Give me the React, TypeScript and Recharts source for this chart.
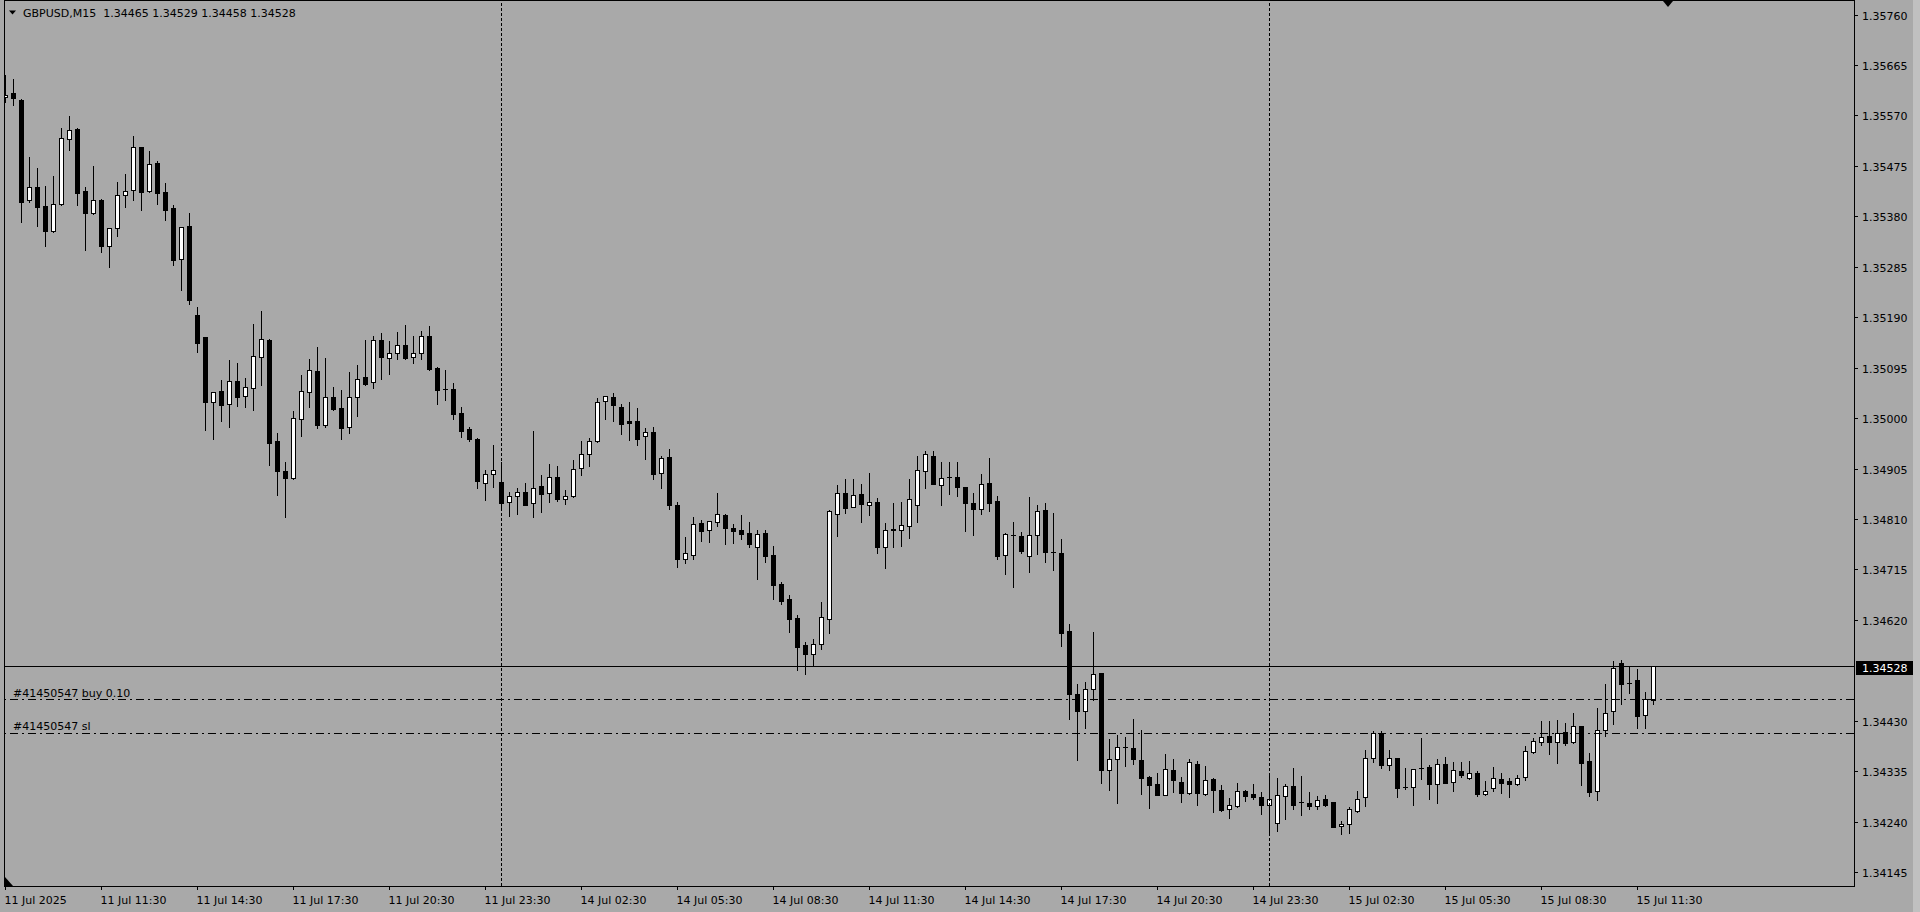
import React from 'react';
import { BarChart, Bar, XAxis, YAxis, ReferenceLine } from 'recharts';

const FONT = '"DejaVu Sans", Verdana, sans-serif';
const BG = '#A9A9A9';

const symbolName = 'GBPUSD,M15';

// trading sessions of M15 bars shown (weekend skipped)
const sessions = [
  { day: '11 Jul', start: 8 * 60 + 30, bars: 62 },
  { day: '14 Jul', start: 0, bars: 96 },
  { day: '15 Jul', start: 0, bars: 49 },
];

const openPrices = [
  1.35600, 1.35608, 1.35595, 1.35406, 1.35431, 1.35395, 1.35348, 1.35398, 1.35522, 1.35540,
  1.35423, 1.35381, 1.35406, 1.35320, 1.35353, 1.35415, 1.35426, 1.35506, 1.35423, 1.35476,
  1.35421, 1.35391, 1.35296, 1.35357, 1.35190, 1.35148, 1.35025, 1.35047, 1.35022, 1.35065,
  1.35037, 1.35052, 1.35110, 1.35143, 1.34952, 1.34896, 1.34883, 1.34993, 1.35044, 1.35084,
  1.34983, 1.35035, 1.35015, 1.34979, 1.35035, 1.35073, 1.35063, 1.35142, 1.35108, 1.35119,
  1.35134, 1.35110, 1.35118, 1.35151, 1.35090, 1.35050, 1.35050, 1.35006, 1.34975, 1.34957,
  1.34873, 1.34890, 1.34876, 1.34837, 1.34848, 1.34856, 1.34835, 1.34867, 1.34854, 1.34884,
  1.34844, 1.34848, 1.34901, 1.34928, 1.34952, 1.35027, 1.35035, 1.35016, 1.34991, 1.34990,
  1.34961, 1.34969, 1.34893, 1.34922, 1.34832, 1.34731, 1.34738, 1.34798, 1.34785, 1.34800,
  1.34813, 1.34789, 1.34785, 1.34779, 1.34753, 1.34779, 1.34738, 1.34684, 1.34655, 1.34619,
  1.34568, 1.34552, 1.34571, 1.34618, 1.34814, 1.34854, 1.34829, 1.34852, 1.34832, 1.34837,
  1.34753, 1.34785, 1.34785, 1.34793, 1.34832, 1.34895, 1.34925, 1.34870, 1.34885, 1.34884,
  1.34865, 1.34836, 1.34824, 1.34873, 1.34839, 1.34738, 1.34776, 1.34773, 1.34735, 1.34775,
  1.34822, 1.34744, 1.34741, 1.34594, 1.34475, 1.34443, 1.34486, 1.34515, 1.34333, 1.34354,
  1.34377, 1.34375, 1.34352, 1.34319, 1.34306, 1.34286, 1.34333, 1.34311, 1.34289, 1.34345,
  1.34287, 1.34316, 1.34295, 1.34259, 1.34265, 1.34294, 1.34287, 1.34282, 1.34267, 1.34233,
  1.34284, 1.34302, 1.34273, 1.34270, 1.34265, 1.34278, 1.34272, 1.34228, 1.34232, 1.34256,
  1.34282, 1.34355, 1.34402, 1.34342, 1.34355, 1.34300, 1.34300, 1.34337, 1.34338, 1.34306,
  1.34345, 1.34310, 1.34330, 1.34317, 1.34327, 1.34288, 1.34298, 1.34315, 1.34312, 1.34307,
  1.34319, 1.34367, 1.34385, 1.34396, 1.34386, 1.34404, 1.34385, 1.34415, 1.34349, 1.34294,
  1.34409, 1.34443, 1.34535, 1.34497, 1.34502, 1.34437, 1.34465,
];

const highPrices = [
  1.35642, 1.35634, 1.35597, 1.35487, 1.35467, 1.35433, 1.35452, 1.35542, 1.35565, 1.35541,
  1.35431, 1.35470, 1.35408, 1.35354, 1.35440, 1.35455, 1.35527, 1.35507, 1.35499, 1.35480,
  1.35438, 1.35397, 1.35356, 1.35382, 1.35205, 1.35149, 1.35045, 1.35067, 1.35105, 1.35099,
  1.35071, 1.35173, 1.35197, 1.35144, 1.34967, 1.34913, 1.35009, 1.35077, 1.35107, 1.35129,
  1.35109, 1.35054, 1.35048, 1.35082, 1.35096, 1.35143, 1.35150, 1.35156, 1.35141, 1.35158,
  1.35171, 1.35150, 1.35160, 1.35169, 1.35091, 1.35086, 1.35062, 1.35016, 1.34979, 1.34958,
  1.34898, 1.34945, 1.34913, 1.34856, 1.34863, 1.34873, 1.34971, 1.34888, 1.34909, 1.34905,
  1.34861, 1.34917, 1.34952, 1.34958, 1.35033, 1.35038, 1.35043, 1.35023, 1.35026, 1.35015,
  1.34977, 1.34979, 1.34924, 1.34937, 1.34838, 1.34772, 1.34809, 1.34804, 1.34802, 1.34854,
  1.34814, 1.34796, 1.34813, 1.34800, 1.34784, 1.34784, 1.34755, 1.34686, 1.34662, 1.34625,
  1.34574, 1.34580, 1.34649, 1.34822, 1.34870, 1.34881, 1.34881, 1.34871, 1.34892, 1.34845,
  1.34798, 1.34836, 1.34838, 1.34881, 1.34924, 1.34934, 1.34934, 1.34913, 1.34913, 1.34913,
  1.34866, 1.34854, 1.34890, 1.34920, 1.34848, 1.34779, 1.34800, 1.34781, 1.34847, 1.34832,
  1.34836, 1.34817, 1.34767, 1.34608, 1.34495, 1.34498, 1.34593, 1.34516, 1.34391, 1.34398,
  1.34395, 1.34429, 1.34409, 1.34322, 1.34328, 1.34363, 1.34353, 1.34320, 1.34353, 1.34350,
  1.34340, 1.34317, 1.34305, 1.34280, 1.34308, 1.34295, 1.34306, 1.34291, 1.34321, 1.34317,
  1.34306, 1.34337, 1.34321, 1.34291, 1.34283, 1.34286, 1.34273, 1.34237, 1.34263, 1.34293,
  1.34370, 1.34406, 1.34406, 1.34370, 1.34356, 1.34337, 1.34335, 1.34393, 1.34342, 1.34353,
  1.34357, 1.34348, 1.34348, 1.34350, 1.34330, 1.34312, 1.34338, 1.34327, 1.34318, 1.34324,
  1.34378, 1.34393, 1.34425, 1.34425, 1.34427, 1.34421, 1.34440, 1.34416, 1.34365, 1.34449,
  1.34495, 1.34538, 1.34540, 1.34528, 1.34523, 1.34479, 1.34529,
];

const lowPrices = [
  1.35590, 1.35585, 1.35365, 1.35403, 1.35358, 1.35320, 1.35346, 1.35397, 1.35501, 1.35396,
  1.35313, 1.35379, 1.35309, 1.35281, 1.35339, 1.35394, 1.35407, 1.35388, 1.35421, 1.35399,
  1.35369, 1.35284, 1.35237, 1.35210, 1.35120, 1.34974, 1.34957, 1.34991, 1.34979, 1.35019,
  1.35017, 1.35010, 1.35058, 1.34908, 1.34851, 1.34810, 1.34881, 1.34962, 1.35017, 1.34977,
  1.34979, 1.35010, 1.34957, 1.34968, 1.35000, 1.35058, 1.35053, 1.35070, 1.35079, 1.35107,
  1.35107, 1.35099, 1.35107, 1.35087, 1.35022, 1.35030, 1.34993, 1.34960, 1.34953, 1.34863,
  1.34842, 1.34866, 1.34826, 1.34812, 1.34815, 1.34831, 1.34809, 1.34819, 1.34838, 1.34840,
  1.34834, 1.34847, 1.34889, 1.34906, 1.34951, 1.34994, 1.34991, 1.34966, 1.34955, 1.34944,
  1.34918, 1.34881, 1.34863, 1.34825, 1.34716, 1.34723, 1.34731, 1.34764, 1.34762, 1.34793,
  1.34759, 1.34761, 1.34767, 1.34753, 1.34693, 1.34725, 1.34655, 1.34646, 1.34593, 1.34522,
  1.34514, 1.34529, 1.34561, 1.34591, 1.34774, 1.34817, 1.34828, 1.34800, 1.34813, 1.34742,
  1.34714, 1.34753, 1.34755, 1.34770, 1.34800, 1.34864, 1.34871, 1.34831, 1.34853, 1.34849,
  1.34782, 1.34776, 1.34814, 1.34821, 1.34731, 1.34702, 1.34678, 1.34742, 1.34706, 1.34740,
  1.34725, 1.34710, 1.34567, 1.34429, 1.34352, 1.34412, 1.34465, 1.34309, 1.34296, 1.34271,
  1.34341, 1.34345, 1.34288, 1.34262, 1.34285, 1.34285, 1.34292, 1.34273, 1.34288, 1.34266,
  1.34285, 1.34254, 1.34256, 1.34243, 1.34264, 1.34275, 1.34279, 1.34250, 1.34215, 1.34217,
  1.34241, 1.34260, 1.34248, 1.34260, 1.34260, 1.34265, 1.34225, 1.34213, 1.34215, 1.34254,
  1.34265, 1.34348, 1.34337, 1.34333, 1.34282, 1.34297, 1.34267, 1.34316, 1.34279, 1.34271,
  1.34308, 1.34294, 1.34320, 1.34316, 1.34284, 1.34286, 1.34294, 1.34290, 1.34282, 1.34305,
  1.34313, 1.34365, 1.34380, 1.34363, 1.34346, 1.34380, 1.34384, 1.34305, 1.34284, 1.34277,
  1.34396, 1.34420, 1.34458, 1.34478, 1.34411, 1.34411, 1.34458,
];

const closePrices = [
  1.35605, 1.35599, 1.35403, 1.35431, 1.35394, 1.35348, 1.35398, 1.35523, 1.35538, 1.35420,
  1.35382, 1.35406, 1.35320, 1.35353, 1.35415, 1.35423, 1.35506, 1.35422, 1.35474, 1.35420,
  1.35388, 1.35294, 1.35355, 1.35218, 1.35137, 1.35026, 1.35044, 1.35021, 1.35065, 1.35036,
  1.35054, 1.35112, 1.35144, 1.34949, 1.34895, 1.34883, 1.34995, 1.35046, 1.35086, 1.34983,
  1.35035, 1.35013, 1.34977, 1.35035, 1.35070, 1.35060, 1.35142, 1.35111, 1.35119, 1.35134,
  1.35109, 1.35118, 1.35151, 1.35088, 1.35049, 1.35051, 1.35004, 1.34972, 1.34957, 1.34878,
  1.34890, 1.34897, 1.34836, 1.34848, 1.34856, 1.34832, 1.34863, 1.34853, 1.34884, 1.34843,
  1.34848, 1.34899, 1.34927, 1.34952, 1.35025, 1.35037, 1.35021, 1.34985, 1.34987, 1.34957,
  1.34969, 1.34891, 1.34920, 1.34831, 1.34731, 1.34741, 1.34797, 1.34783, 1.34801, 1.34815,
  1.34789, 1.34783, 1.34778, 1.34759, 1.34777, 1.34736, 1.34682, 1.34652, 1.34618, 1.34565,
  1.34552, 1.34571, 1.34620, 1.34820, 1.34854, 1.34827, 1.34850, 1.34834, 1.34837, 1.34753,
  1.34784, 1.34786, 1.34794, 1.34843, 1.34897, 1.34927, 1.34872, 1.34882, 1.34885, 1.34866,
  1.34836, 1.34825, 1.34871, 1.34836, 1.34736, 1.34777, 1.34775, 1.34745, 1.34775, 1.34820,
  1.34744, 1.34743, 1.34591, 1.34475, 1.34443, 1.34485, 1.34513, 1.34333, 1.34353, 1.34377,
  1.34377, 1.34354, 1.34318, 1.34305, 1.34286, 1.34334, 1.34313, 1.34290, 1.34347, 1.34289,
  1.34313, 1.34296, 1.34257, 1.34266, 1.34294, 1.34284, 1.34282, 1.34267, 1.34279, 1.34285,
  1.34302, 1.34267, 1.34273, 1.34265, 1.34276, 1.34267, 1.34226, 1.34232, 1.34259, 1.34279,
  1.34355, 1.34402, 1.34343, 1.34355, 1.34299, 1.34300, 1.34334, 1.34337, 1.34307, 1.34345,
  1.34309, 1.34332, 1.34324, 1.34327, 1.34288, 1.34294, 1.34317, 1.34309, 1.34307, 1.34318,
  1.34368, 1.34387, 1.34394, 1.34386, 1.34402, 1.34384, 1.34415, 1.34346, 1.34292, 1.34408,
  1.34441, 1.34524, 1.34494, 1.34497, 1.34435, 1.34466, 1.34528,
];

const yTicks = [
  1.34145, 1.34240, 1.34335, 1.34430, 1.34620, 1.34715, 1.34810, 1.34905, 1.35000,
  1.35095, 1.35190, 1.35285, 1.35380, 1.35475, 1.35570, 1.35665, 1.35760,
];

const xTickLabels = [
  '11 Jul 2025', '11 Jul 11:30', '11 Jul 14:30', '11 Jul 17:30', '11 Jul 20:30', '11 Jul 23:30',
  '14 Jul 02:30', '14 Jul 05:30', '14 Jul 08:30', '14 Jul 11:30', '14 Jul 14:30', '14 Jul 17:30',
  '14 Jul 20:30', '14 Jul 23:30', '15 Jul 02:30', '15 Jul 05:30', '15 Jul 08:30', '15 Jul 11:30',
];

const separatorTimes = ['14 Jul 00:00', '15 Jul 00:00'];

const buyPrice = 1.34465;
const buyLabel = '#41450547 buy 0.10';
const slPrice = 1.34402;
const slLabel = '#41450547 sl';

const Y_MIN = 1.341143;
const Y_MAX = 1.357811;
const SHIFT_BARS = 24;

function pad2(n: number) {
  return n < 10 ? '0' + n : String(n);
}

const times: string[] = [];
sessions.forEach((s) => {
  for (let i = 0; i < s.bars; i++) {
    const m = s.start + 15 * i;
    times.push(`${s.day} ${pad2(Math.floor(m / 60))}:${pad2(m % 60)}`);
  }
});

const rows: any[] = times.map((t, i) => ({
  t,
  o: openPrices[i],
  h: highPrices[i],
  l: lowPrices[i],
  c: closePrices[i],
  range: [lowPrices[i], highPrices[i]],
}));
for (let i = 0; i < SHIFT_BARS; i++) {
  rows.push({ t: `shift-${i}`, o: null, h: null, l: null, c: null, range: null });
}

const tickTimes = times.filter((_, i) => i % 12 === 0);
const tickLabelMap = new Map<string, string>();
tickTimes.forEach((t, i) => tickLabelMap.set(t, xTickLabels[i]));

const last = rows[times.length - 1];
const bid = last.c;
const title = `${symbolName}  ${last.o.toFixed(5)} ${last.h.toFixed(5)} ${last.l.toFixed(5)} ${last.c.toFixed(5)}`;

function Candle(props: any) {
  const { x, y, width, height, payload } = props;
  if (!payload || payload.o == null || !isFinite(y) || !isFinite(height)) return null;
  const { o, h, l, c } = payload;
  const top = Math.min(y, y + height);
  const bottom = Math.max(y, y + height);
  const k = h > l ? (bottom - top) / (h - l) : 0;
  const py = (v: number) => top + (h - v) * k;
  const cx = Math.floor(x + width / 2) + 0.5;
  const bull = c >= o;
  const bt = Math.round(py(Math.max(o, c)));
  const bb = Math.round(py(Math.min(o, c)));
  return (
    <g>
      <line x1={cx} x2={cx} y1={Math.round(py(h))} y2={Math.round(py(l)) + 1} stroke="#000" strokeWidth={1} />
      {bb - bt < 1 ? (
        <line x1={cx - 2.5} x2={cx + 2.5} y1={bt + 0.5} y2={bt + 0.5} stroke="#000" strokeWidth={1} />
      ) : (
        <rect x={cx - 2} y={bt + 0.5} width={4} height={bb - bt} fill={bull ? '#fff' : '#000'} stroke="#000" strokeWidth={1} />
      )}
    </g>
  );
}

function XTick(props: any) {
  const { x, y, payload } = props;
  const label = tickLabelMap.get(payload.value);
  if (!label) return null;
  const cx = Math.floor(x) + 0.5;
  return (
    <g>
      <line x1={cx} x2={cx} y1={y} y2={y + 4} stroke="#000" shapeRendering="crispEdges" />
      <text x={cx - 1} y={y + 18} fontFamily={FONT} fontSize={11} fill="#000">{label}</text>
    </g>
  );
}

function YTick(props: any) {
  const { x, y, payload } = props;
  const yy = Math.round(y + 2.4) + 0.5;
  return (
    <g>
      <line x1={x} x2={x + 4} y1={yy} y2={yy} stroke="#000" shapeRendering="crispEdges" />
      <text x={x + 8} y={yy + 4} fontFamily={FONT} fontSize={11} fill="#000">{Number(payload.value).toFixed(5)}</text>
    </g>
  );
}

function PriceTag(props: any) {
  const vb = props.viewBox || {};
  const right = (vb.x ?? 0) + (vb.width ?? 0);
  const y = Math.round(vb.y ?? 0);
  return (
    <g>
      <rect x={right + 2} y={y - 5} width={57} height={14} fill="#000" />
      <text x={right + 8} y={y + 6} fill="#fff" fontFamily={FONT} fontSize={11}>{bid.toFixed(5)}</text>
    </g>
  );
}

function OrderLabel(props: any) {
  const vb = props.viewBox || {};
  return (
    <text x={(vb.x ?? 0) + 11.5} y={(vb.y ?? 0) - 3} fill="#000" fontFamily={FONT} fontSize={11}>
      {props.text}
    </text>
  );
}

export default function App() {
  return (
    <div style={{ position: 'absolute', left: 0, top: 0, width: 1920, height: 912, background: BG, overflow: 'hidden' }}>
      <BarChart
        width={1920}
        height={912}
        data={rows}
        margin={{ top: 1, right: 0, bottom: 0, left: 1.5 }}
        barCategoryGap={0}
        barGap={0}
      >
        <XAxis
          dataKey="t"
          height={26}
          ticks={tickTimes}
          interval={0}
          tick={<XTick />}
          tickSize={0}
          tickMargin={0}
          tickLine={false}
          axisLine={false}
          padding={{ left: 0, right: 4.5 }}
        />
        <YAxis
          orientation="right"
          width={66}
          type="number"
          domain={[Y_MIN, Y_MAX]}
          allowDataOverflow
          ticks={yTicks}
          interval={0}
          tick={<YTick />}
          tickSize={0}
          tickMargin={0}
          tickLine={false}
          axisLine={false}
        />
        {separatorTimes.map((t) => (
          <ReferenceLine key={t} x={t} stroke="#000" strokeDasharray="3 2" strokeWidth={1} />
        ))}
        <ReferenceLine y={buyPrice} stroke="#000" strokeDasharray="8 4 2 4" strokeWidth={1} shapeRendering="crispEdges" label={<OrderLabel text={buyLabel} />} />
        <ReferenceLine y={slPrice} stroke="#000" strokeDasharray="8 4 2 4" strokeWidth={1} shapeRendering="crispEdges" label={<OrderLabel text={slLabel} />} />
        <ReferenceLine y={bid} stroke="#000" strokeWidth={1} shapeRendering="crispEdges" label={<PriceTag />} />
        <Bar dataKey="range" shape={<Candle />} isAnimationActive={false} />
      </BarChart>
      <svg width={1920} height={912} style={{ position: 'absolute', left: 0, top: 0, pointerEvents: 'none' }}>
        <rect x={0} y={0} width={4} height={912} fill={BG} />
        <rect x={4.5} y={0.5} width={1850} height={886} fill="none" stroke="#000" strokeWidth={1} shapeRendering="crispEdges" />
        <polygon points="9,10.5 16,10.5 12.5,14.5" fill="#000" />
        <text x={23} y={17} fontFamily={FONT} fontSize={11} fill="#000" style={{ whiteSpace: 'pre' }}>{title}</text>
        <polygon points="1663,1 1673,1 1668,7" fill="#000" />
        <polygon points="5,877 5,886 13,886" fill="#000" />
        <rect x={1913} y={0} width={7} height={912} fill="#C0C0C0" />
      </svg>
    </div>
  );
}
